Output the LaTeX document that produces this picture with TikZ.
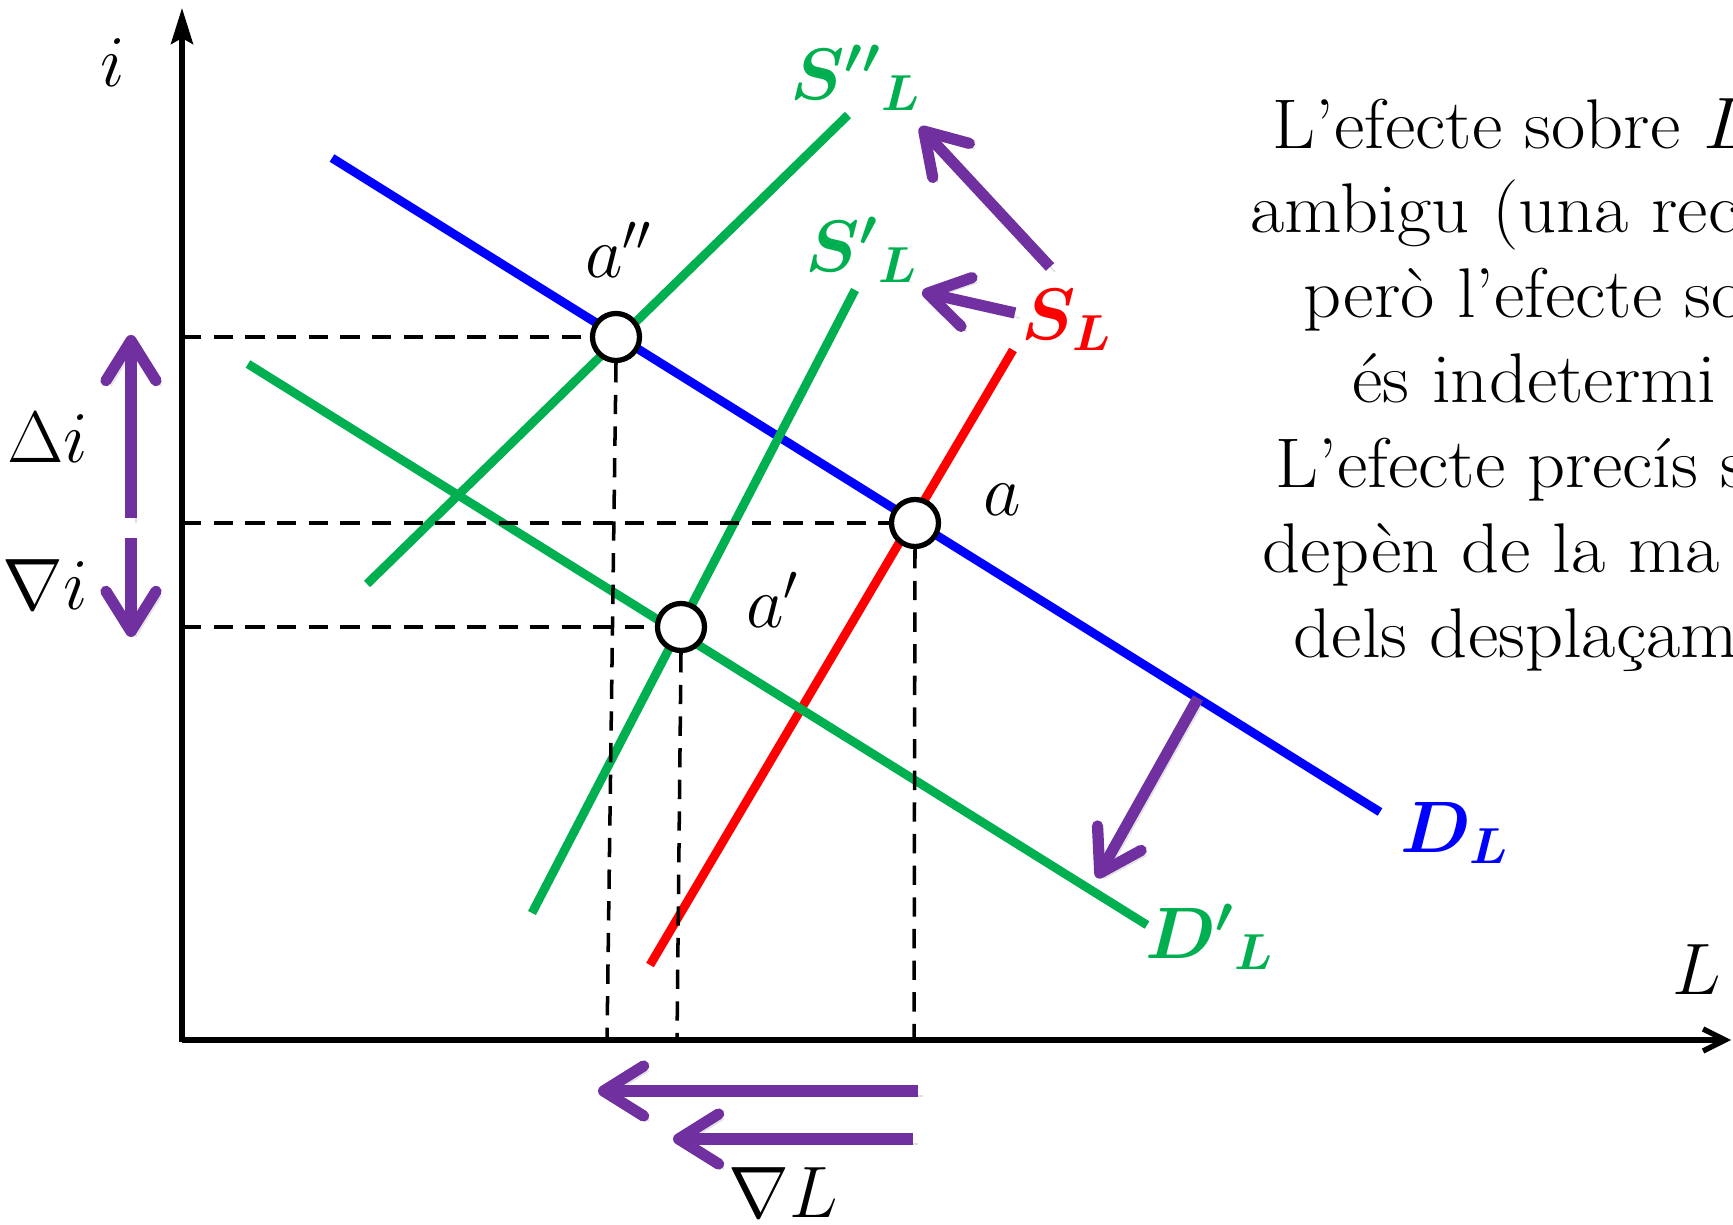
\documentclass[tikz,border=0pt]{standalone}
\usepackage{amsmath}
\usepackage{bm}
\usetikzlibrary{arrows.meta}

\definecolor{dgreen}{RGB}{0,176,80}
\definecolor{vpurple}{RGB}{112,48,160}
\newcommand{\widetxt}[1]{\scalebox{1.06}[1]{#1}}

\begin{document}
\begin{tikzpicture}[x=0.01cm, y=-0.01cm,
  axis/.style={line width=1.5pt},
  curve/.style={line width=2.5pt},
  guide/.style={line width=1pt, dash pattern=on 5.5pt off 3.5pt},
  eqpt/.style={circle, draw, fill=white, line width=1.5pt, minimum size=0.47cm, inner sep=0pt},
  shiftarrow/.style={vpurple, line width=3.2pt, -{Straight Barb[length=0.4cm, width=0.5cm, round]},
    preaction={draw=black, opacity=0.12, transform canvas={shift={(0.05cm,-0.05cm)}}}},
  lbl/.style={font=\fontsize{20}{24}\selectfont},
  txt/.style={font=\fontsize{20}{24}\selectfont, anchor=base west, inner sep=0pt}]
  \useasboundingbox (0,0) rectangle (1733,1225);

  % axes
  \coordinate (O) at (182,1040);
  \draw[axis, -{Stealth[length=0.36cm, width=0.22cm, inset=0.06cm]}] (182,1042) -- (182,8);
  \draw[axis, -{Straight Barb[length=0.22cm, width=0.22cm]}] (O) -- (1731,1040);
  \node[lbl] (ilbl) at (113,63) {$i$};
  \node[lbl] (Llbl) at (1697,970) {$L$};

  % demand and supply curves
  \draw[curve, blue] (332,158) -- (1380,812);
  \draw[curve, red] (650,965) -- (1013,350);
  \draw[curve, dgreen] (532,913) -- (855,290);
  \draw[curve, dgreen] (367,584) -- (848,115);
  \draw[curve, dgreen] (248,364) -- (1147,925);

  \node[lbl, dgreen] (S2lbl) at (856,78) {$\bm{{S''}_{L}}$};
  \node[lbl, dgreen] (S1lbl) at (862,250) {$\bm{{S'}_{L}}$};
  \node[lbl, red] (S0lbl) at (1067,320) {$\bm{S_{L}}$};
  \node[lbl, blue] (D0lbl) at (1455,833) {$\bm{D_{L}}$};
  \node[lbl, dgreen] (D1lbl) at (1210,937) {$\bm{{D'}_{L}}$};

  % equilibria
  \node[eqpt] (a2) at (616,337) {};
  \node[eqpt] (a0) at (915,523) {};
  \node[eqpt] (a1) at (681,627) {};
  \coordinate (a2x) at (607,1040);
  \coordinate (a0x) at (914,1040);
  \coordinate (a1x) at (677,1040);

  \draw[guide] (a2 -| O) -- (a2.west);
  \draw[guide] (a0 -| O) -- (a0.west);
  \draw[guide] (a1 -| O) -- (a1.west);
  \draw[guide] (a2.south) -- (a2x);
  \draw[guide] (a0.south) -- (a0x);
  \draw[guide] (a1.south) -- (a1x);

  \node[lbl] (a2lbl) at (619,250) {$a''$};
  \node[lbl] (a0lbl) at (1002,500) {$a$};
  \node[lbl] (a1lbl) at (773,600) {$a'$};

  % shifts
  \draw[shiftarrow] (131,518) -- (131,335);
  \draw[shiftarrow] (131,538) -- (131,637);
  \draw[shiftarrow] (918,1091) -- (598,1091);
  \draw[shiftarrow] (913,1139) -- (673,1139);
  \draw[shiftarrow] (1050,267) -- (920,127);
  \draw[shiftarrow] (1015,313) -- (922,292);
  \draw[shiftarrow] (1198,698) -- (1097,878);

  \node[lbl] (dilbl) at (48,438) {$\Delta i$};
  \node[lbl] (nilbl) at (45,585) {$\nabla i$};
  \node[lbl] (nLlbl) at (783,1193) {$\nabla L$};

  % comment text
  \node[txt] (t1) at (1272,149) {\widetxt{L’efecte sobre $L$}};
  \node[txt] (t2) at (1250,233) {\widetxt{ambigu (una rec}};
  \node[txt] (t3) at (1303,318) {\widetxt{però l’efecte so}};
  \node[txt] (t4) at (1352,403) {\widetxt{és indetermi}};
  \node[txt] (t5) at (1275,488) {\widetxt{L’efecte precís s}};
  \node[txt] (t6) at (1262,573) {\widetxt{depèn de la ma}};
  \node[txt] (t7) at (1293,658) {\widetxt{dels desplaçam}};
\end{tikzpicture}
\end{document}
